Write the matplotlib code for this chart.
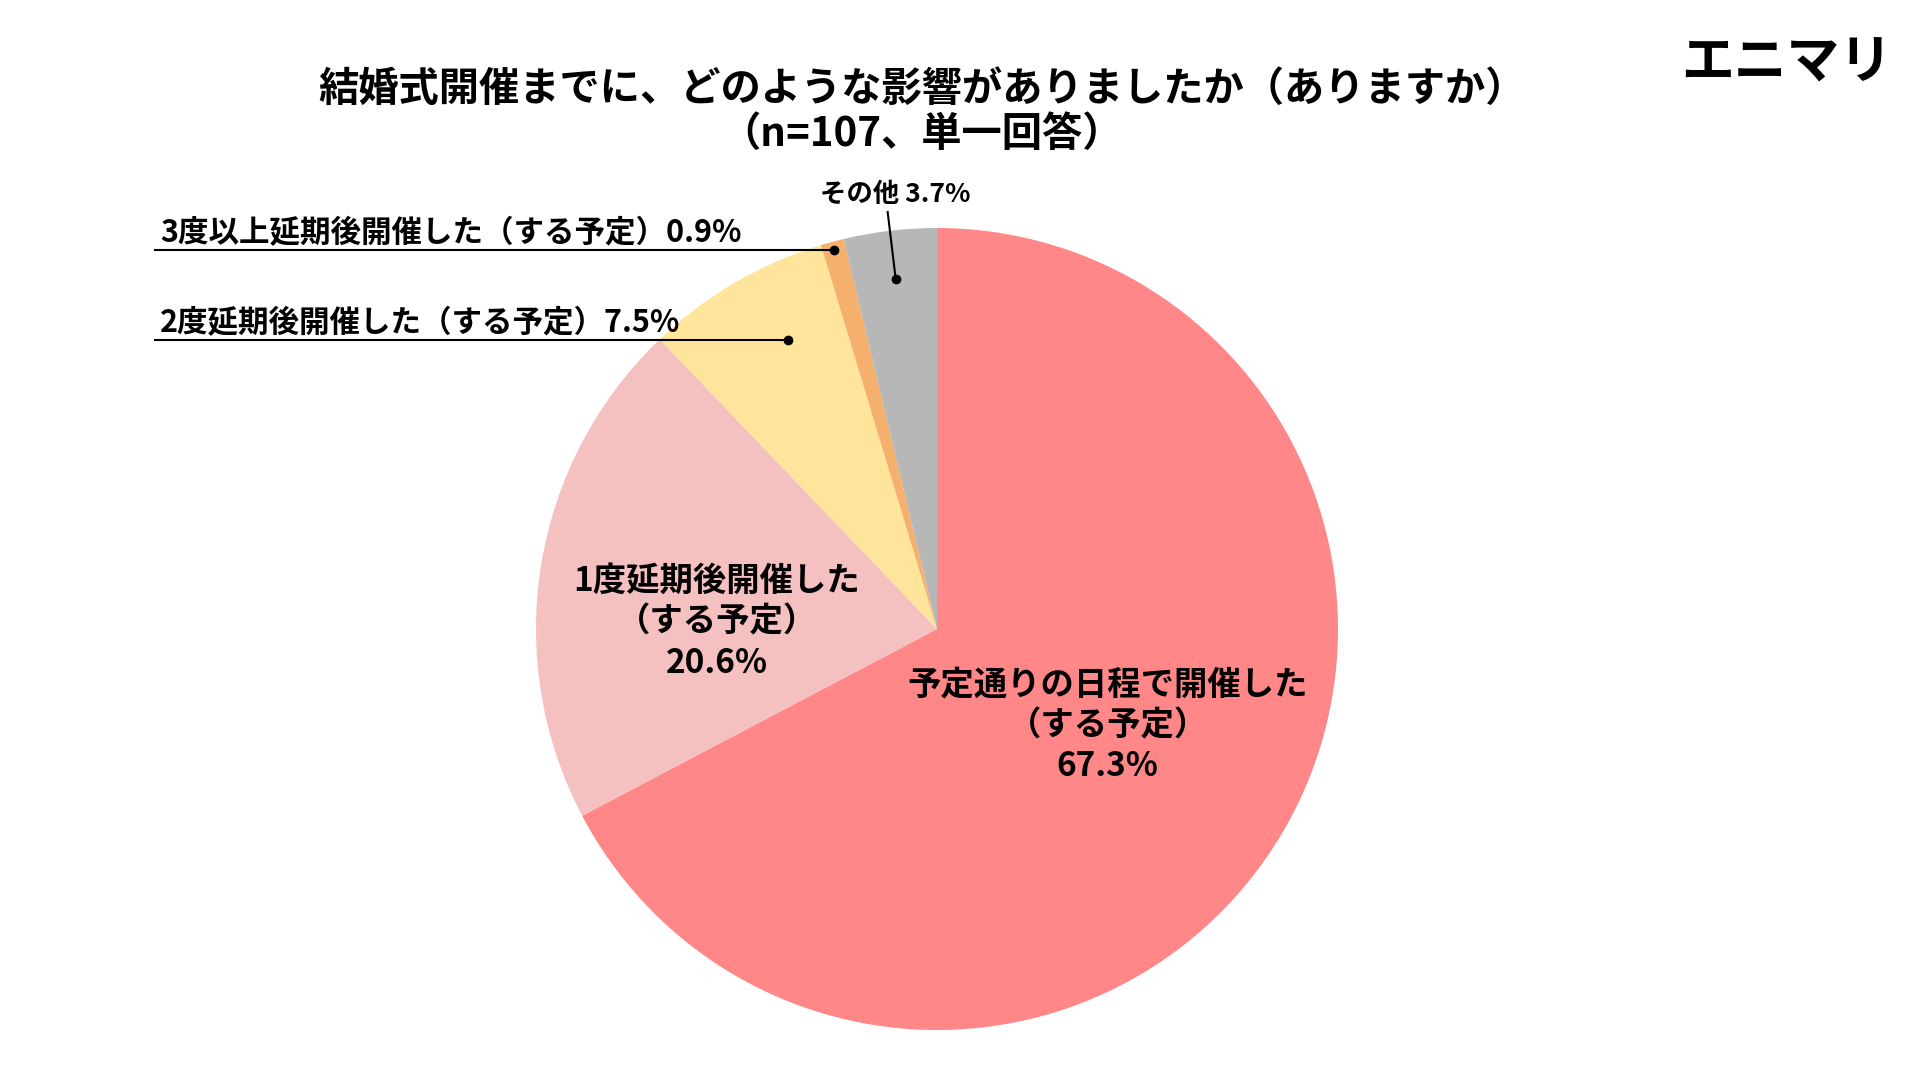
import numpy as np
import matplotlib
matplotlib.use('Agg')
from matplotlib import pyplot as plt

plt.rcParams['font.family'] = ['Noto Sans CJK JP', 'DejaVu Sans']

labels = ['予定通りの日程で開催した\n（する予定）', '1度延期後開催した\n（する予定）',
          '2度延期後開催した（する予定）', '3度以上延期後開催した（する予定）', 'その他']
counts = [72, 22, 8, 1, 4]
colors = ['#FF8787', '#F5C0C0', '#FFE49B', '#F4B06C', '#B7B7B7']
title = '結婚式開催までに、どのような影響がありましたか（ありますか）\n（n=107、単一回答）'

W, H = 1916, 1075
fig = plt.figure(figsize=(W / 100, H / 100), dpi=100)
ax = fig.add_axes([0, 0, 1, 1])

cx, cy, R = 937, H - 629, 401
wedges, _ = ax.pie(counts, colors=colors, startangle=90, counterclock=False,
                   center=(cx, cy), radius=R, wedgeprops={'linewidth': 0})
ax.set_xlim(0, W)
ax.set_ylim(0, H)
ax.set_aspect('equal')
ax.axis('off')

pct = [c / sum(counts) * 100 for c in counts]

def mid(i):
    w = wedges[i]
    return np.deg2rad((w.theta1 + w.theta2) / 2)

def at(ang, f):
    return cx + R * f * np.cos(ang), cy + R * f * np.sin(ang)

# inside labels
x, y = at(mid(0) + np.deg2rad(1.5), 0.49)
ax.text(x, y, f'{labels[0]}\n{pct[0]:.1f}%', ha='center', va='center',
        fontsize=24, fontweight='bold', linespacing=1.3)
x, y = at(mid(1) + np.deg2rad(7.5), 0.55)
ax.text(x, y, f'{labels[1]}\n{pct[1]:.1f}%', ha='center', va='center',
        fontsize=24, fontweight='bold', linespacing=1.3)

# outside labels with leader lines
for i, f in [(2, 0.81), (3, 0.98)]:
    dx, dy = at(mid(i) - np.deg2rad(3 if i == 2 else 0), f)
    ax.plot([155, dx], [dy, dy], color='black', lw=1.5)
    ax.plot(dx, dy, 'o', color='black', ms=6)
    ax.text(160, dy + 1, f'{labels[i]}{pct[i]:.1f}%', ha='left', va='bottom',
            fontsize=22, fontweight='bold')

dx, dy = at(mid(4), 0.88)
ax.plot([dx - 8, dx], [H - 212, dy], color='black', lw=1.5)
ax.plot(dx, dy, 'o', color='black', ms=6)
ax.text(dx, H - 194, f'{labels[4]} {pct[4]:.1f}%', ha='center', va='center',
        fontsize=19, fontweight='bold')

ax.text(922, H - 112, title, ha='center', va='center', fontsize=29,
        fontweight='bold', linespacing=1.15)
ax.text(1892, H - 63, 'エニマリ', ha='right', va='center', fontsize=38,
        fontweight='bold')

fig.savefig('out.png', dpi=100)
